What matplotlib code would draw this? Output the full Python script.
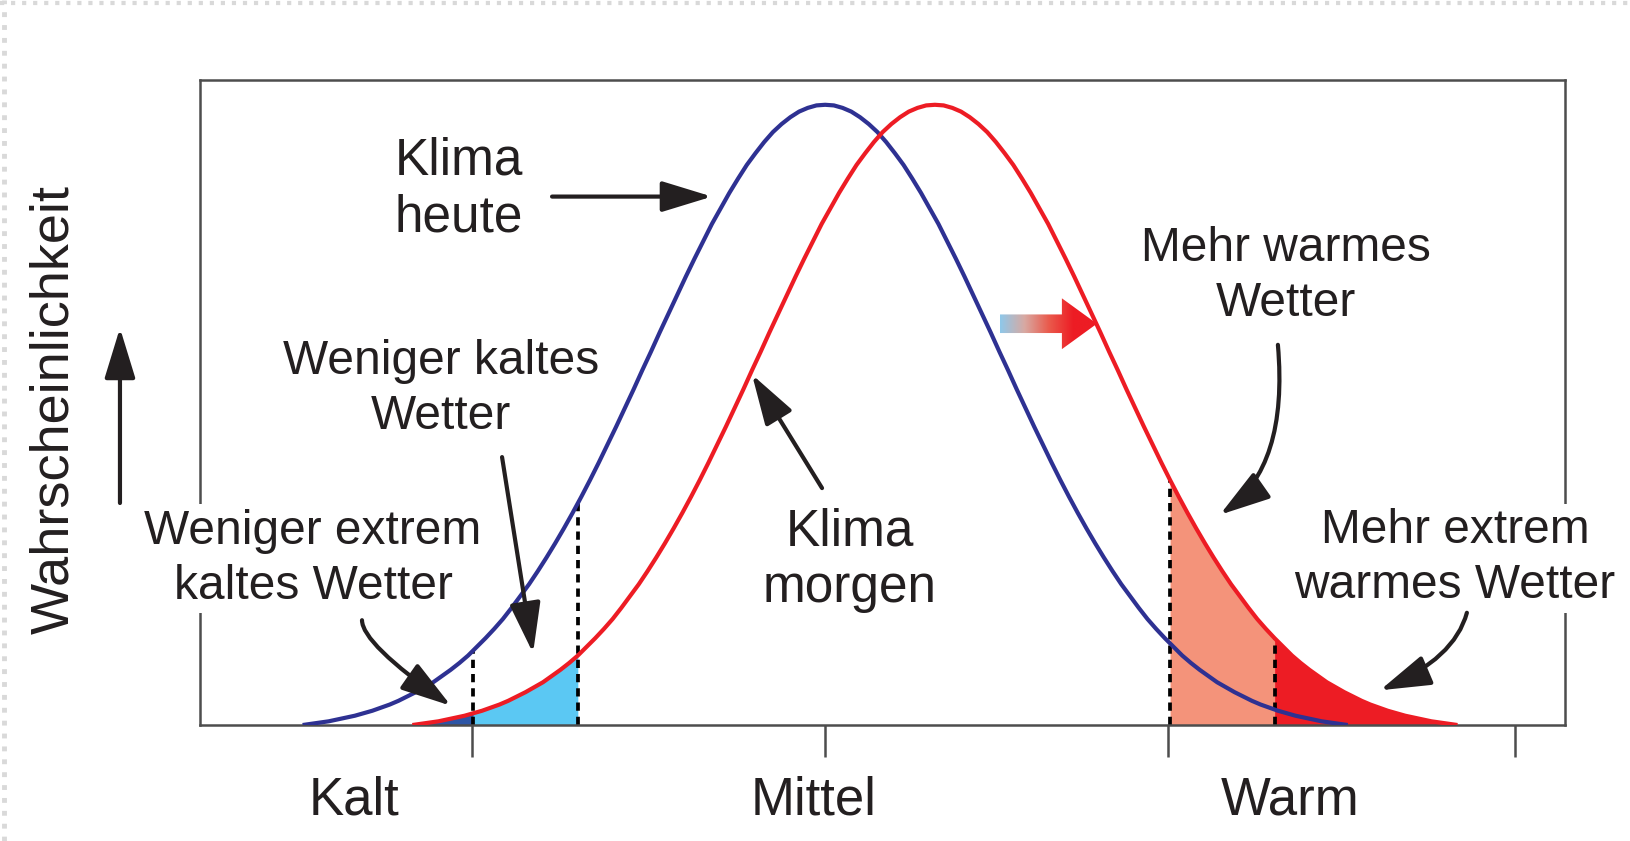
import numpy as np
import matplotlib.pyplot as plt
from matplotlib.patches import Polygon
from matplotlib.colors import LinearSegmentedColormap
from matplotlib.lines import Line2D

plt.rcParams['font.family'] = ['Liberation Sans', 'DejaVu Sans']

# bell curve height, peak = 1, from the centre out to 3 sigma
# in steps of 0.05 sigma (both curves have the same shape)
half_profile = [1.000, 0.999, 0.995, 0.989, 0.980, 0.969, 0.956, 0.940, 0.922, 0.903,
                0.881, 0.858, 0.833, 0.808, 0.780, 0.752, 0.723, 0.693, 0.663, 0.633,
                0.602, 0.572, 0.541, 0.511, 0.481, 0.452, 0.423, 0.395, 0.368, 0.342,
                0.317, 0.293, 0.270, 0.248, 0.227, 0.208, 0.189, 0.171, 0.155, 0.140,
                0.126, 0.112, 0.100, 0.089, 0.079, 0.069, 0.061, 0.053, 0.046, 0.039,
                0.033, 0.028, 0.023, 0.019, 0.015, 0.012, 0.009, 0.006, 0.004, 0.002,
                0.000]
step = 0.05
today_mean = 0.0      # Klima heute
tomorrow_mean = 0.63  # Klima morgen

# dotted dividers: extrem kalt | kalt ... warm | extrem warm
dividers = [-2.02, -1.42, 1.98, 2.58]
band_colors = ['#2d55a5', '#5bc8f3', '#f4937a', '#ed1c24']

tick_positions = [-2.03, 0.0, 1.97, 3.96]
tick_names = ['Kalt', 'Mittel', 'Warm']
tick_name_x = [-2.705, -0.064, 2.668]

BLUE = '#2e3192'
RED = '#ed1c24'
INK = '#231f20'
AXC = '#4d4d4d'

half = np.array(half_profile)
heights = np.concatenate([half[:0:-1], half])
offsets = np.arange(-(len(half) - 1), len(half)) * step
blue_x = today_mean + offsets
red_x = tomorrow_mean + offsets

fig = plt.figure(figsize=(16.3, 8.41), dpi=100)
ax = fig.add_axes([0.1227, 0.1379, 0.8374, 0.767])

# shaded tails under the new curve
bands = [(red_x[0], dividers[0]), (dividers[0], dividers[1]),
         (dividers[2], dividers[3]), (dividers[3], red_x[-1])]
for (lo, hi), c in zip(bands, band_colors):
    m = (red_x >= lo - 1e-6) & (red_x <= hi + 1e-6)
    ax.fill_between(red_x[m], 0, heights[m], color=c, lw=0, zorder=1)

for d in dividers:
    top = max(np.interp(d, blue_x, heights, left=0, right=0),
              np.interp(d, red_x, heights, left=0, right=0))
    ax.plot([d, d], [0, top], color='black', lw=2.7, ls=(0, (2.2, 1.6)), zorder=2)

ax.plot(blue_x, heights, color=BLUE, lw=3.0, zorder=3, solid_capstyle='butt')
ax.plot(red_x, heights, color=RED, lw=3.0, zorder=3.1, solid_capstyle='butt')

# gradient arrow showing the shift
gx0, gx1, gx2 = 1.003, 1.359, 1.560
gy, body, head = 0.647, 0.015, 0.041
arrow_poly = Polygon([(gx0, gy - body), (gx1, gy - body), (gx1, gy - head), (gx2, gy),
                      (gx1, gy + head), (gx1, gy + body), (gx0, gy + body)],
                     closed=True, facecolor='none', edgecolor='none', transform=ax.transData)
ax.add_patch(arrow_poly)
grad_cmap = LinearSegmentedColormap.from_list(
    'shift', ['#8ec8ea', '#d8a9a2', '#ea5a4c', RED, RED], N=256)
im = ax.imshow(np.linspace(0, 1, 256).reshape(1, -1), cmap=grad_cmap, aspect='auto',
               extent=[gx0, gx2, gy - head, gy + head], zorder=4, interpolation='bilinear')
im.set_clip_path(arrow_poly)

for s in ax.spines.values():
    s.set_color(AXC)
    s.set_linewidth(1.8)
ax.set_xlim(-3.589, 4.247)
ax.set_ylim(0, 1.04)
ax.set_xticks(tick_positions)
ax.set_xticklabels([])
ax.set_yticks([])
ax.tick_params(axis='x', direction='out', length=23, width=1.8, color=AXC)

for name, x in zip(tick_names, tick_name_x):
    ax.text(x, -0.121, name, ha='center', va='center', fontsize=38, color=INK)

fig.text(0.0331, 0.5125, 'Wahrscheinlichkeit', rotation=90, ha='center', va='center',
         fontsize=39, color=INK)

# labels
big = dict(ha='center', va='center', color=INK, linespacing=1.2, zorder=5, fontsize=37)
small = dict(ha='center', va='center', color=INK, linespacing=1.3, zorder=5, fontsize=34.5)
box = dict(facecolor='white', edgecolor='none', pad=3)
ax.text(-2.102, 0.863, 'Klima\nheute', **big)
ax.text(0.142, 0.265, 'Klima\nmorgen', **big)
ax.text(-2.206, 0.542, 'Weniger kaltes\nWetter', **small)
ax.text(2.645, 0.724, 'Mehr warmes\nWetter', **small)
ax.text(-2.940, 0.268, 'Weniger extrem\nkaltes Wetter', bbox=box, **small)
ax.text(3.615, 0.269, 'Mehr extrem\nwarmes Wetter', bbox=box, **small)

style = '-|>,head_length=3.1,head_width=0.95'


def arrow(tail, tip, conn='arc3,rad=0', coords='data'):
    ax.annotate('', xy=tip, xytext=tail, xycoords=coords, textcoords=coords,
                annotation_clip=False, zorder=6,
                arrowprops=dict(arrowstyle=style, mutation_scale=10, lw=3, color=INK,
                                shrinkA=0, shrinkB=0, connectionstyle=conn))


arrow((-1.568, 0.852), (-0.650, 0.852))
arrow((-0.018, 0.382), (-0.420, 0.565))
arrow((-1.855, 0.432), (-1.677, 0.116))
arrow((-2.659, 0.169), (-2.148, 0.031), 'angle3,angleA=-90,angleB=-35')
arrow((2.599, 0.613), (2.266, 0.339), 'angle3,angleA=-85,angleB=35')
arrow((3.684, 0.181), (3.185, 0.056), 'angle3,angleA=-105,angleB=23')
arrow((0.0736, 0.4019), (0.0736, 0.610), coords='figure fraction')

# faint dotted frame of the original screenshot (top and left)
fig.add_artist(Line2D([0, 1], [0.9965, 0.9965], transform=fig.transFigure,
                      color='#d9d9d9', lw=3, ls=':'))
fig.add_artist(Line2D([0.0025, 0.0025], [0, 1], transform=fig.transFigure,
                      color='#d9d9d9', lw=3.5, ls=':'))

fig.savefig('out.png', dpi=100)
